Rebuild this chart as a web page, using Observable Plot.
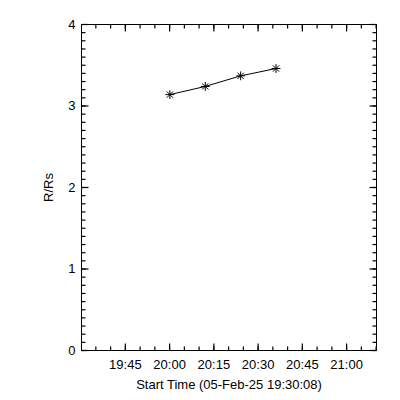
<!DOCTYPE html>
<html>
<head>
<meta charset="utf-8">
<script src="https://cdn.jsdelivr.net/npm/d3@7"></script>
<script src="https://cdn.jsdelivr.net/npm/@observablehq/plot@0.6"></script>
<style>
  html, body { margin: 0; padding: 0; background: #fff; }
  svg { display: block; }
</style>
</head>
<body>
<div id="chart"></div>
<script>
// Data
const startTime = "2025-02-05T19:30:08Z";
const endTime = "2025-02-05T21:10:08Z";
const times = ["2025-02-05T20:00:05Z", "2025-02-05T20:12:05Z", "2025-02-05T20:24:05Z", "2025-02-05T20:36:05Z"];
const radius = [3.14, 3.24, 3.37, 3.46];
const xTickLabels = ["19:45", "20:00", "20:15", "20:30", "20:45", "21:00"];
const yTickLabels = [0, 1, 2, 3, 4];
const xTitle = "Start Time (05-Feb-25 19:30:08)";
const yTitle = "R/Rs";

const data = times.map((t, i) => ({t: new Date(t), r: radius[i]}));
const domainX = [new Date(startTime), new Date(endTime)];
const xMajor = xTickLabels.map(s => new Date(`2025-02-05T${s}:00Z`));
const xMinor = d3.utcMinute.every(5).range(domainX[0], domainX[1]);
const yMinor = d3.range(0, 40).map(i => i / 10);

const star = {
  draw(context, size) {
    const r = Math.sqrt(size) / 2;
    const d = r * Math.SQRT1_2;
    context.moveTo(-r, 0); context.lineTo(r, 0);
    context.moveTo(0, -r); context.lineTo(0, r);
    context.moveTo(-d, -d); context.lineTo(d, d);
    context.moveTo(-d, d); context.lineTo(d, -d);
  }
};

const W = 400, H = 400, mT = 24, mL = 81, mR = 24, mB = 50;
const plotW = W - mL - mR, plotH = H - mT - mB;
const font = "Liberation Sans, Arial, sans-serif";
const fmt = d3.utcFormat("%H:%M");
const minorLen = 4, majorLen = 7;
const spanX = domainX[1] - domainX[0];
const dxUnits = px => spanX * px / plotW;
const dyUnits = px => 4 * px / plotH;

const tickRows = [];
for (const [arr, len] of [[xMinor, minorLen], [xMajor, majorLen]]) {
  for (const t of arr) {
    tickRows.push({x1: t, x2: t, y1: 0, y2: dyUnits(len)});
    tickRows.push({x1: t, x2: t, y1: 4, y2: 4 - dyUnits(len)});
  }
}
for (const [arr, len] of [[yMinor, minorLen], [yTickLabels, majorLen]]) {
  for (const v of arr) {
    tickRows.push({x1: domainX[0], x2: new Date(+domainX[0] + dxUnits(len)), y1: v, y2: v});
    tickRows.push({x1: domainX[1], x2: new Date(+domainX[1] - dxUnits(len)), y1: v, y2: v});
  }
}

const chart = Plot.plot({
  width: W,
  height: H,
  marginTop: mT,
  marginLeft: mL,
  marginRight: mR,
  marginBottom: mB,
  style: {fontFamily: font, fontSize: "13px", color: "#000", background: "#fff", overflow: "visible"},
  x: {type: "utc", domain: domainX},
  y: {domain: [0, 4]},
  marks: [
    Plot.frame({stroke: "#000", strokeWidth: 1}),
    Plot.link(tickRows, {x1: "x1", x2: "x2", y1: "y1", y2: "y2", stroke: "#000", strokeWidth: 1.2}),
    Plot.axisX({anchor: "bottom", ticks: xMajor, tickFormat: fmt, tickSize: 0, tickPadding: 9,
      label: xTitle, labelAnchor: "center", labelArrow: "none", labelOffset: 38, fill: "#000"}),
    Plot.axisY({anchor: "left", ticks: yTickLabels, tickFormat: d => String(d), tickSize: 0, tickPadding: 6,
      label: yTitle, labelAnchor: "center", labelArrow: "none", labelOffset: 38, fill: "#000"}),
    Plot.line(data, {x: "t", y: "r", stroke: "#000", strokeWidth: 1}),
    Plot.dot(data, {x: "t", y: "r", symbol: star, r: 5, stroke: "#000", strokeWidth: 1, fill: "none"})
  ]
});
document.getElementById("chart").appendChild(chart);
</script>
</body>
</html>
